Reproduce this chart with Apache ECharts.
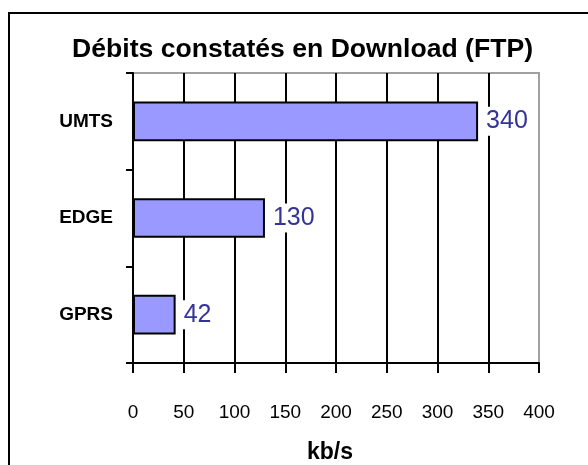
<!DOCTYPE html>
<html>
<head>
<meta charset="utf-8">
<script src="https://cdn.jsdelivr.net/npm/echarts@6/dist/echarts.min.js"></script>
<style>html,body{margin:0;padding:0;background:#fff;}#c{width:588px;height:465px;}</style>
</head>
<body>
<div id="c"></div>
<script>
const titleText = 'Débits constatés en Download (FTP)';
const categories = ['UMTS', 'EDGE', 'GPRS'];
const values = [340, 130, 42];
const xTicks = [0, 50, 100, 150, 200, 250, 300, 350, 400];
const xAxisName = 'kb/s';

const chart = echarts.init(document.getElementById('c'), null, {renderer: 'canvas'});
chart.setOption({
  animation: false,
  backgroundColor: '#fff',
  title: {
    text: titleText,
    left: 67,
    top: 31,
    textStyle: {fontFamily: 'Liberation Sans, Arial, sans-serif', fontWeight: 'bold', fontSize: 26.6, color: '#000'}
  },
  graphic: [{
    type: 'rect', silent: true, z: 100,
    shape: {x: 9, y: 13, width: 700, height: 600},
    style: {fill: 'none', stroke: '#000', lineWidth: 2}
  }],
  grid: {
    left: 133, right: 49, top: 73, bottom: 102,
    containLabel: false, outerBoundsMode: 'none',
    show: true, borderColor: '#a0a0a0', borderWidth: 2, backgroundColor: 'transparent'
  },
  xAxis: {
    type: 'value', min: xTicks[0], max: xTicks[xTicks.length - 1], interval: 50,
    name: xAxisName, nameLocation: 'middle', nameGap: 78,
    nameTextStyle: {fontFamily: 'Liberation Sans, Arial, sans-serif', fontWeight: 'bold', fontSize: 23, color: '#000', padding: [0, 12, 0, 0]},
    axisLine: {show: true, lineStyle: {color: '#000', width: 2}},
    axisTick: {show: true, inside: false, length: 10, lineStyle: {color: '#000', width: 2}},
    axisLabel: {margin: 40, fontFamily: 'Liberation Sans Narrow, Arial Narrow, Liberation Sans, Arial, sans-serif', fontSize: 19, color: '#000'},
    splitLine: {show: true, showMinLine: false, showMaxLine: false, lineStyle: {color: '#000', width: 2}}
  },
  yAxis: {
    type: 'category', data: categories, inverse: true,
    axisLine: {show: true, lineStyle: {color: '#000', width: 2}},
    axisTick: {show: true, inside: false, length: 7, lineStyle: {color: '#000', width: 2}},
    axisLabel: {margin: 20, fontFamily: 'Liberation Sans, Arial, sans-serif', fontWeight: 'bold', fontSize: 19, color: '#000'},
    splitLine: {show: false}
  },
  series: [{
    type: 'bar', data: values, barCategoryGap: '59%',
    itemStyle: {color: '#9999ff', borderColor: '#000', borderWidth: 2},
    label: {
      show: true, position: 'right', distance: 6,
      fontFamily: 'Liberation Sans, Arial, sans-serif', fontSize: 25, color: '#333399',
      backgroundColor: '#fff', padding: [2, 2]
    }
  }]
});
</script>
</body>
</html>
